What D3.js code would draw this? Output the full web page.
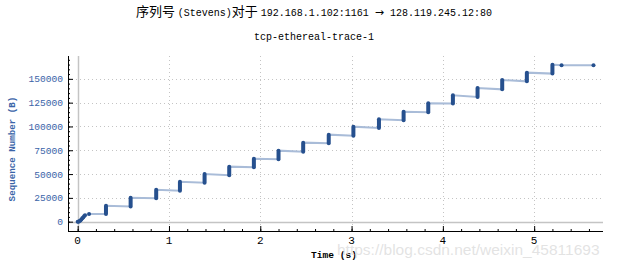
<!DOCTYPE html>
<html>
<head>
<meta charset="utf-8">
<script src="https://cdn.jsdelivr.net/npm/d3@7"></script>
<style>
  body { margin: 0; background: #fff; }
  svg { display: block; }
</style>
</head>
<body>
<div id="chart"></div>
<script>
// slow start at the beginning of the trace
const startTimes = [0, 0.01, 0.02, 0.03, 0.04, 0.05, 0.06, 0.07, 0.08, 0.125];
const startSeqs = [0, 0, 600, 1300, 2400, 3500, 4500, 5600, 6800, 8100];

// the bursts, one every ~0.27 s
const burstTimes = [0.31, 0.58, 0.86, 1.12, 1.39, 1.66, 1.93, 2.20, 2.47, 2.75, 3.02, 3.30, 3.57, 3.84, 4.11, 4.38, 4.65, 4.92, 5.20];
const burstLow = [8100, 16000, 24500, 32600, 41000, 48700, 57100, 65500, 73500, 82300, 90300, 98400, 106500, 114900, 124000, 131000, 139000, 147400, 155500];
const burstHigh = [16800, 25000, 33500, 42000, 50100, 57800, 66200, 74600, 83000, 91400, 99800, 107500, 115500, 124400, 132800, 140400, 148800, 156500, 164900];

// last segments
const tailTimes = [5.30, 5.65];
const tailSeqs = [164300, 164300];

const xTicks = [0, 1, 2, 3, 4, 5];
const yTicks = [0, 25000, 50000, 75000, 100000, 125000, 150000];

const width = 618, height = 267;
const plotLeft = 68, plotRight = 603, plotTop = 56, plotBottom = 231;
const mono = "'Liberation Mono', 'DejaVu Sans Mono', monospace";
const blue = "#3a64a8";

const svg = d3.select("#chart").append("svg")
  .attr("width", width)
  .attr("height", height);

const x = d3.scaleLinear().domain([-0.106, 5.754]).range([plotLeft, plotRight]);
const y = d3.scaleLinear().domain([-9800, 174000]).range([plotBottom, plotTop]);

// grid
svg.append("g").selectAll("line")
  .data(xTicks).enter().append("line")
  .attr("x1", d => Math.round(x(d)) + 0.5).attr("x2", d => Math.round(x(d)) + 0.5)
  .attr("y1", plotTop).attr("y2", plotBottom)
  .attr("stroke", "#c4c4c4")
  .attr("stroke-width", d => d === 0 ? 1.5 : 1)
  .attr("stroke-dasharray", d => d === 0 ? null : "1,3");

svg.append("g").selectAll("line")
  .data(yTicks).enter().append("line")
  .attr("x1", plotLeft).attr("x2", plotRight)
  .attr("y1", d => Math.round(y(d)) + 0.5).attr("y2", d => Math.round(y(d)) + 0.5)
  .attr("stroke", "#c4c4c4")
  .attr("stroke-width", d => d === 0 ? 1.5 : 1)
  .attr("stroke-dasharray", d => d === 0 ? null : "1,3");

// axes (ticks point into the plot)
svg.append("g")
  .attr("transform", "translate(0," + plotBottom + ")")
  .call(d3.axisTop(x).tickValues(d3.range(0, 5.75, 0.2)).tickSize(2).tickFormat(""))
  .select(".domain").remove();
svg.append("g")
  .attr("transform", "translate(0," + plotBottom + ")")
  .call(d3.axisTop(x).tickValues(xTicks).tickSize(5).tickFormat(""))
  .select(".domain").remove();
svg.append("line")
  .attr("x1", plotLeft).attr("x2", plotRight)
  .attr("y1", plotBottom + 0.5).attr("y2", plotBottom + 0.5)
  .attr("stroke", "#000");

svg.append("g")
  .attr("transform", "translate(" + plotLeft + ",0)")
  .call(d3.axisRight(y).tickValues(d3.range(0, 174000, 5000)).tickSize(2).tickFormat(""))
  .select(".domain").remove();
svg.append("g")
  .attr("transform", "translate(" + plotLeft + ",0)")
  .call(d3.axisRight(y).tickValues(yTicks).tickSize(5).tickFormat(""))
  .select(".domain").remove();
svg.append("line")
  .attr("x1", plotLeft + 0.5).attr("x2", plotLeft + 0.5)
  .attr("y1", plotTop).attr("y2", plotBottom)
  .attr("stroke", "#000");

// tick labels
svg.append("g").selectAll("text")
  .data(xTicks).enter().append("text")
  .attr("x", d => x(d))
  .attr("y", 244)
  .attr("text-anchor", "middle")
  .style("font-family", mono)
  .style("font-size", "11px")
  .attr("fill", "#000")
  .text(d => d);

svg.append("g").selectAll("text")
  .data(yTicks).enter().append("text")
  .attr("x", 63)
  .attr("y", d => y(d) + 3.5)
  .attr("text-anchor", "end")
  .style("font-family", mono)
  .style("font-size", "9.6px")
  .attr("fill", blue)
  .text(d => d);

// axis titles
svg.append("text")
  .attr("transform", "translate(15,149) rotate(-90)")
  .attr("text-anchor", "middle")
  .style("font-family", mono)
  .style("font-size", "9.2px")
  .style("font-weight", "bold")
  .attr("fill", blue)
  .text("Sequence Number (B)");

svg.append("text")
  .attr("x", 334)
  .attr("y", 258)
  .attr("text-anchor", "middle")
  .style("font-family", mono)
  .style("font-size", "9.6px")
  .style("font-weight", "bold")
  .attr("fill", "#000")
  .text("Time (s)");

// titles
const title = svg.append("text")
  .attr("x", 314)
  .attr("y", 16)
  .attr("text-anchor", "middle")
  .attr("fill", "#000");
title.append("tspan").style("font-family", "'Noto Sans CJK SC'").style("font-size", "13px").text("序列号 ");
title.append("tspan").style("font-family", mono).style("font-size", "10px").text("(Stevens)");
title.append("tspan").style("font-family", "'Noto Sans CJK SC'").style("font-size", "13px").text("对于 ");
title.append("tspan").style("font-family", mono).style("font-size", "10px").text("192.168.1.102:1161 ");
title.append("tspan").style("font-family", "'DejaVu Sans'").style("font-size", "11px").text("→");
title.append("tspan").style("font-family", mono).style("font-size", "10px").text(" 128.119.245.12:80");

svg.append("text")
  .attr("x", 314)
  .attr("y", 40)
  .attr("text-anchor", "middle")
  .style("font-family", mono)
  .style("font-size", "10px")
  .attr("fill", "#000")
  .text("tcp-ethereal-trace-1");

// connecting line
const path = [];
startTimes.forEach((t, i) => path.push([t, startSeqs[i]]));
burstTimes.forEach((t, i) => { path.push([t, burstLow[i]]); path.push([t, burstHigh[i]]); });
tailTimes.forEach((t, i) => path.push([t, tailSeqs[i]]));

const line = d3.line().x(d => x(d[0])).y(d => y(d[1]));
svg.append("path")
  .datum(path)
  .attr("d", line)
  .attr("fill", "none")
  .attr("stroke", "#a9bcd8")
  .attr("stroke-width", 2);

// bursts
svg.append("g").selectAll("line")
  .data(burstTimes).enter().append("line")
  .attr("x1", d => x(d)).attr("x2", d => x(d))
  .attr("y1", (d, i) => y(burstLow[i])).attr("y2", (d, i) => y(burstHigh[i]))
  .attr("stroke", "#26508e")
  .attr("stroke-width", 4)
  .attr("stroke-linecap", "round");

// single segments
const dots = startTimes.map((t, i) => [t, startSeqs[i]]).concat(tailTimes.map((t, i) => [t, tailSeqs[i]]));
svg.append("g").selectAll("circle")
  .data(dots).enter().append("circle")
  .attr("cx", d => x(d[0]))
  .attr("cy", d => y(d[1]))
  .attr("r", 2)
  .attr("fill", "#26508e");

// watermark
svg.append("text")
  .attr("x", 337)
  .attr("y", 255)
  .style("font-family", "'Liberation Sans', Arial, sans-serif")
  .style("font-size", "15.5px")
  .attr("fill", "#dcdcdc")
  .attr("fill-opacity", 0.8)
  .text("https://blog.csdn.net/weixin_45811693");
</script>
</body>
</html>
